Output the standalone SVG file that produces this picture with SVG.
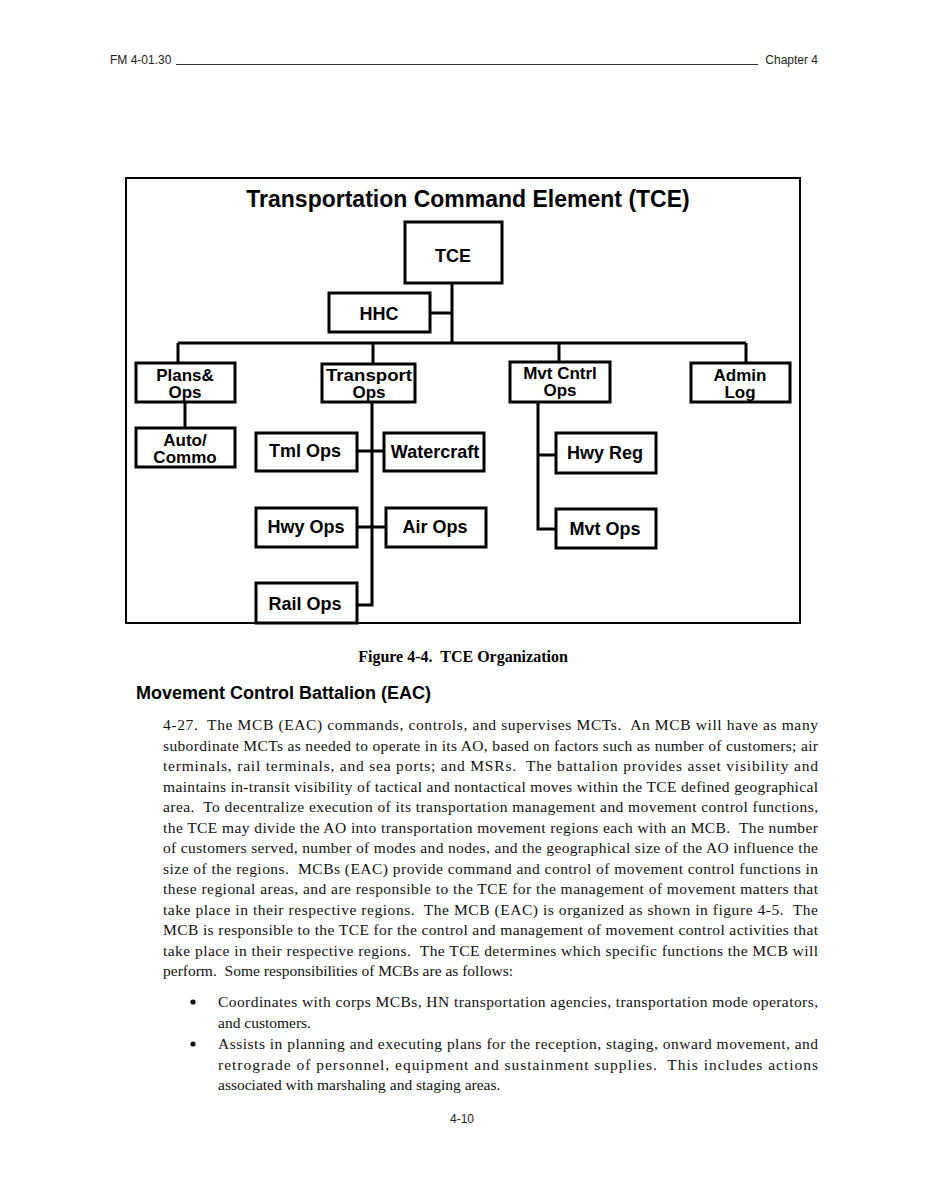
<svg xmlns="http://www.w3.org/2000/svg" width="926" height="1198" viewBox="0 0 926 1198">
<style>
.hdr{font-family:"Liberation Sans",Arial,sans-serif;font-size:12px;fill:#222}
.box{fill:#fff;stroke:#000;stroke-width:3}
.lbl{font-family:"Liberation Sans",Arial,sans-serif;font-size:18px;font-weight:bold;fill:#000;text-anchor:middle}
.l2{font-size:17px}
.con{fill:none;stroke:#000;stroke-width:3}
.body{font-family:"Liberation Serif","Times New Roman",serif;font-size:15.5px;fill:#111}
</style>
<rect width="926" height="1198" fill="#fff"/>
<g id="header">
<text class="hdr" x="110" y="64">FM 4-01.30</text>
<line x1="176" y1="64.5" x2="758" y2="64.5" stroke="#333" stroke-width="1"/>
<text class="hdr" x="818" y="64" text-anchor="end">Chapter 4</text>
</g>
<rect id="frame" x="126" y="178" width="674" height="445" fill="none" stroke="#000" stroke-width="2"/>
<text id="title" x="468" y="207" font-family="Liberation Sans,Arial,sans-serif" font-size="23" font-weight="bold" text-anchor="middle">Transportation Command Element (TCE)</text>
<g id="connectors">
<path class="con" d="M452 283V343M430 313H452M178 343H746M178 343V363M373 343V364M559 343V362M746 343V363M185 402V428M372 402V605H357M357 451H384M357 527H386M538 402V529H556M538 455H556"/>
</g>
<g id="n-tce"><rect class="box" x="405" y="222" width="97" height="61"/><text class="lbl" x="453" y="262" font-size="22">TCE</text></g>
<g id="n-hhc"><rect class="box" x="329" y="293" width="101" height="39"/><text class="lbl" x="379" y="320">HHC</text></g>
<g id="n-plans"><rect class="box" x="136" y="363" width="99" height="39"/><text class="lbl l2" x="185" y="381">Plans&amp;</text><text class="lbl l2" x="185" y="398">Ops</text></g>
<g id="n-transport"><rect class="box" x="322" y="364" width="93" height="38"/><text class="lbl l2" x="369" y="381" textLength="86" lengthAdjust="spacingAndGlyphs">Transport</text><text class="lbl l2" x="369" y="398">Ops</text></g>
<g id="n-mvtcntrl"><rect class="box" x="510" y="362" width="100" height="40"/><text class="lbl l2" x="560" y="379">Mvt Cntrl</text><text class="lbl l2" x="560" y="396">Ops</text></g>
<g id="n-admin"><rect class="box" x="691" y="363" width="99" height="39"/><text class="lbl l2" x="740" y="381">Admin</text><text class="lbl l2" x="740" y="398">Log</text></g>
<g id="n-auto"><rect class="box" x="136" y="428" width="99" height="39"/><text class="lbl l2" x="185" y="446">Auto/</text><text class="lbl l2" x="185" y="463">Commo</text></g>
<g id="n-tml"><rect class="box" x="256" y="433" width="101" height="38"/><text class="lbl" x="305" y="457">Tml Ops</text></g>
<g id="n-water"><rect class="box" x="384" y="433" width="100" height="38"/><text class="lbl" x="435" y="458">Watercraft</text></g>
<g id="n-hwyreg"><rect class="box" x="556" y="433" width="100" height="40"/><text class="lbl" x="605" y="459">Hwy Reg</text></g>
<g id="n-hwyops"><rect class="box" x="256" y="508" width="101" height="39"/><text class="lbl" x="306" y="533">Hwy Ops</text></g>
<g id="n-airops"><rect class="box" x="386" y="508" width="100" height="39"/><text class="lbl" x="435" y="533">Air Ops</text></g>
<g id="n-mvtops"><rect class="box" x="556" y="509" width="100" height="39"/><text class="lbl" x="605" y="535">Mvt Ops</text></g>
<g id="n-rail"><rect class="box" x="256" y="583" width="101" height="40"/><text class="lbl" x="305" y="610">Rail Ops</text></g>
<text id="caption" x="463" y="662" font-family="Liberation Serif,Times New Roman,serif" font-size="16" font-weight="bold" text-anchor="middle" xml:space="preserve">Figure 4-4.  TCE Organization</text>
<text id="heading" x="136" y="699" font-family="Liberation Sans,Arial,sans-serif" font-size="18" font-weight="bold">Movement Control Battalion (EAC)</text>
<g id="bodytext" class="body">
<text xml:space="preserve" x="163" y="730" textLength="655" lengthAdjust="spacing">4-27.  The MCB (EAC) commands, controls, and supervises MCTs.  An MCB will have as many</text>
<text xml:space="preserve" x="163" y="750.5" textLength="655" lengthAdjust="spacing">subordinate MCTs as needed to operate in its AO, based on factors such as number of customers; air</text>
<text xml:space="preserve" x="163" y="771" textLength="655" lengthAdjust="spacing">terminals, rail terminals, and sea ports; and MSRs.  The battalion provides asset visibility and</text>
<text xml:space="preserve" x="163" y="791.5" textLength="655" lengthAdjust="spacing">maintains in-transit visibility of tactical and nontactical moves within the TCE defined geographical</text>
<text xml:space="preserve" x="163" y="812" textLength="655" lengthAdjust="spacing">area.  To decentralize execution of its transportation management and movement control functions,</text>
<text xml:space="preserve" x="163" y="832.5" textLength="655" lengthAdjust="spacing">the TCE may divide the AO into transportation movement regions each with an MCB.  The number</text>
<text xml:space="preserve" x="163" y="853" textLength="655" lengthAdjust="spacing">of customers served, number of modes and nodes, and the geographical size of the AO influence the</text>
<text xml:space="preserve" x="163" y="873.5" textLength="655" lengthAdjust="spacing">size of the regions.  MCBs (EAC) provide command and control of movement control functions in</text>
<text xml:space="preserve" x="163" y="894" textLength="655" lengthAdjust="spacing">these regional areas, and are responsible to the TCE for the management of movement matters that</text>
<text xml:space="preserve" x="163" y="914.5" textLength="655" lengthAdjust="spacing">take place in their respective regions.  The MCB (EAC) is organized as shown in figure 4-5.  The</text>
<text xml:space="preserve" x="163" y="935" textLength="655" lengthAdjust="spacing">MCB is responsible to the TCE for the control and management of movement control activities that</text>
<text xml:space="preserve" x="163" y="955.5" textLength="655" lengthAdjust="spacing">take place in their respective regions.  The TCE determines which specific functions the MCB will</text>
<text xml:space="preserve" x="163" y="976">perform.  Some responsibilities of MCBs are as follows:</text>
<circle cx="193" cy="1002" r="2.6" fill="#111"/>
<text xml:space="preserve" x="218" y="1007" textLength="600" lengthAdjust="spacing">Coordinates with corps MCBs, HN transportation agencies, transportation mode operators,</text>
<text x="218" y="1027.5">and customers.</text>
<circle cx="193" cy="1044" r="2.6" fill="#111"/>
<text xml:space="preserve" x="218" y="1049" textLength="600" lengthAdjust="spacing">Assists in planning and executing plans for the reception, staging, onward movement, and</text>
<text xml:space="preserve" x="218" y="1069.5" textLength="600" lengthAdjust="spacing">retrograde of personnel, equipment and sustainment supplies.  This includes actions</text>
<text x="218" y="1090">associated with marshaling and staging areas.</text>
</g>
<text id="footer" class="hdr" x="462" y="1123" text-anchor="middle">4-10</text>
</svg>
